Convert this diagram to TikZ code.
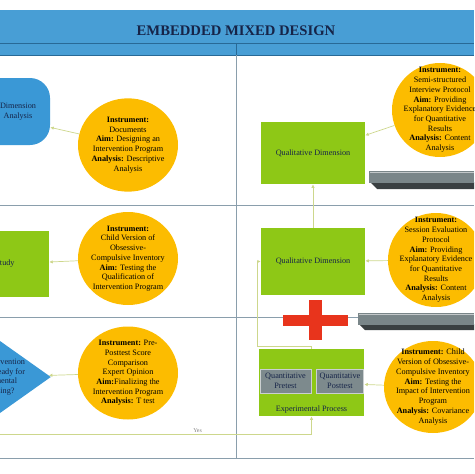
\documentclass[tikz,border=0pt]{standalone}
\usepackage{fontspec}
\setmainfont{Liberation Serif}
\usetikzlibrary{arrows.meta, positioning, shapes.geometric}

\definecolor{headblue}{RGB}{72,158,213}
\definecolor{headline}{RGB}{40,105,150}
\definecolor{shapeblue}{RGB}{58,152,214}
\definecolor{navytext}{RGB}{22,36,72}
\definecolor{limegreen}{RGB}{142,200,22}
\definecolor{gold}{RGB}{252,188,0}
\definecolor{gridgray}{RGB}{138,158,172}
\definecolor{connline}{RGB}{205,215,140}
\definecolor{slate}{RGB}{122,134,137}
\definecolor{slatedark}{RGB}{58,64,66}
\definecolor{crossred}{RGB}{232,52,28}
\definecolor{boxgray}{RGB}{125,138,141}

\newcommand{\cellfont}{\fontsize{7}{8.3}\selectfont}

\begin{document}
\begin{tikzpicture}[
    x=0.03cm, y=-0.03cm,
    grid/.style={draw=gridgray, line width=0.5pt},
    blob/.style={fill=shapeblue, rounded corners=0.6cm, minimum width=4.2cm,
                 minimum height=2.01cm},
    bluetext/.style={font=\cellfont, text=navytext, align=center, inner sep=0pt},
    greenbox/.style={fill=limegreen, minimum width=3.12cm, minimum height=1.86cm,
                     font=\cellfont, text=navytext, align=center},
    graybox/.style={fill=boxgray, draw=white!60!boxgray, line width=0.4pt,
                    minimum height=0.72cm, inner sep=1pt,
                    font=\cellfont, text=navytext, align=center},
    decision/.style={diamond, fill=shapeblue, aspect=1.41, inner sep=0pt,
                     font=\cellfont, text=navytext, align=center},
    infocircle/.style={ellipse, fill=gold, minimum width=3cm, minimum height=2.8cm,
                       inner sep=-0.36cm, font=\cellfont, align=center},
    conn/.style={draw=connline, line width=0.6pt, -{Latex[length=3pt, width=3pt]}},
]
    \useasboundingbox (0,0) rectangle (474,474);
    \clip (0,0) rectangle (474,474);

    \fill[headblue] (0,10) rectangle (474,55);
    \draw[headline, line width=0.5pt] (0,43) -- (474,43);
    \draw[headline, line width=0.5pt] (0,55) -- (474,55);
    \draw[headline, line width=0.5pt] (236,43) -- (236,55);
    \node[font=\fontsize{12.5}{14}\selectfont\bfseries, text=navytext] (title) at (236,31) {EMBEDDED MIXED DESIGN};

    \draw[grid] (236,55) -- (236,458);
    \draw[grid] (0,205) -- (474,205);
    \draw[grid] (0,317) -- (474,317);
    \draw[grid] (0,458) -- (474,458);

    \node[blob] (quantblob) at (-20,111.5) {};
    \node[bluetext, left=0.42cm of quantblob.east] (blobtext) {Dimension\\Analysis};
    \node[greenbox, minimum width=2.64cm, minimum height=1.98cm] (pilot) at (5,264) {Study};
    \node[decision] (testnode) at (-5,377) {Is the Intervention\\Program ready for\\Experimental\\Processing?};

    \node[infocircle] (docs) at (128,145) {\textbf{Instrument:}\\Documents\\\textbf{Aim:} Designing an\\Intervention Program\\\textbf{Analysis:} Descriptive\\Analysis};
    \node[infocircle, minimum height=2.79cm] (pilotinfo) at (128,258.5) {\textbf{Instrument:}\\Child Version of\\Obsessive-\\Compulsive Inventory\\\textbf{Aim:} Testing the\\Qualification of\\Intervention Program};
    \node[infocircle, minimum height=2.79cm] (expert) at (128,373) {\textbf{Instrument:} Pre-\\Posttest Score\\Comparison\\Expert Opinion\\\textbf{Aim:}Finalizing the\\Intervention Program\\\textbf{Analysis:} T test};

    \node[greenbox] (qual1) at (313,153) {Qualitative Dimension};
    \node[greenbox, minimum height=2.01cm] (qual2) at (313,261.5) {Qualitative Dimension};
    \node[fill=limegreen, minimum width=3.15cm, minimum height=2.01cm,
          label={[anchor=south, font=\cellfont, text=navytext, inner sep=2pt]south:Experimental Process}] (expbox) at (311.5,382.5) {};
    \node[graybox, minimum width=1.53cm] (pretest) at (285.5,381) {Quantitative\\Pretest};
    \node[graybox, minimum width=1.41cm, right=0.15cm of pretest] (posttest) {Quantitative\\Posttest};

    \node[infocircle, minimum width=2.88cm, minimum height=2.82cm] (interview) at (440,110) {\textbf{Instrument:}\\Semi-structured\\Interview Protocol\\\textbf{Aim:} Providing\\Explanatory Evidence\\for Quantitative\\Results\\\textbf{Analysis:} Content\\Analysis};
    \node[infocircle, minimum width=2.88cm, minimum height=2.82cm] (session) at (436,260) {\textbf{Instrument:}\\Session Evaluation\\Protocol\\\textbf{Aim:} Providing\\Explanatory Evidence\\for Quantitative\\Results\\\textbf{Analysis:} Content\\Analysis};
    \node[infocircle, minimum width=2.94cm, minimum height=2.76cm] (impact) at (433,387) {\textbf{Instrument:} Child\\Version of Obsessive-\\Compulsive Inventory\\\textbf{Aim:} Testing the\\Impact of Intervention\\Program\\\textbf{Analysis:} Covariance\\Analysis};

    \fill[slatedark] (370,182) -- (474,182) -- (474,189) -- (377,189) -- cycle;
    \fill[slate] (369,171) rectangle (474,183);
    \draw[white!55!slate, line width=0.4pt] (370,172) -- (474,172);
    \fill[slatedark] (359,324) -- (474,324) -- (474,330) -- (365,330) -- cycle;
    \fill[slate] (358,313) rectangle (474,325);
    \draw[white!55!slate, line width=0.4pt] (359,314) -- (474,314);

    \fill[crossred] (309,300) rectangle (322,340);
    \fill[crossred] (283,315) rectangle (348,326);

    \coordinate (yesrow) at (0,434);
    \coordinate (loopleft) at (257,346);

    \draw[conn] (docs) -- (quantblob);
    \draw[conn] (pilotinfo) -- (pilot);
    \draw[conn] (expert) -- (testnode);
    \draw[conn] (testnode.south) |- (expbox.south |- yesrow)
        node[pos=0.82, above, font=\fontsize{5}{6}\selectfont, text=gray, inner sep=1pt]{Yes}
        -- (expbox.south);
    \draw[conn] (interview) -- (qual1);
    \draw[conn] (qual2) -- (qual1);
    \draw[conn] (session) -- (qual2);
    \draw[conn] (expbox.north) |- (loopleft) |- (qual2.west);
    \draw[conn] (impact) -- (expbox);
\end{tikzpicture}
\end{document}
